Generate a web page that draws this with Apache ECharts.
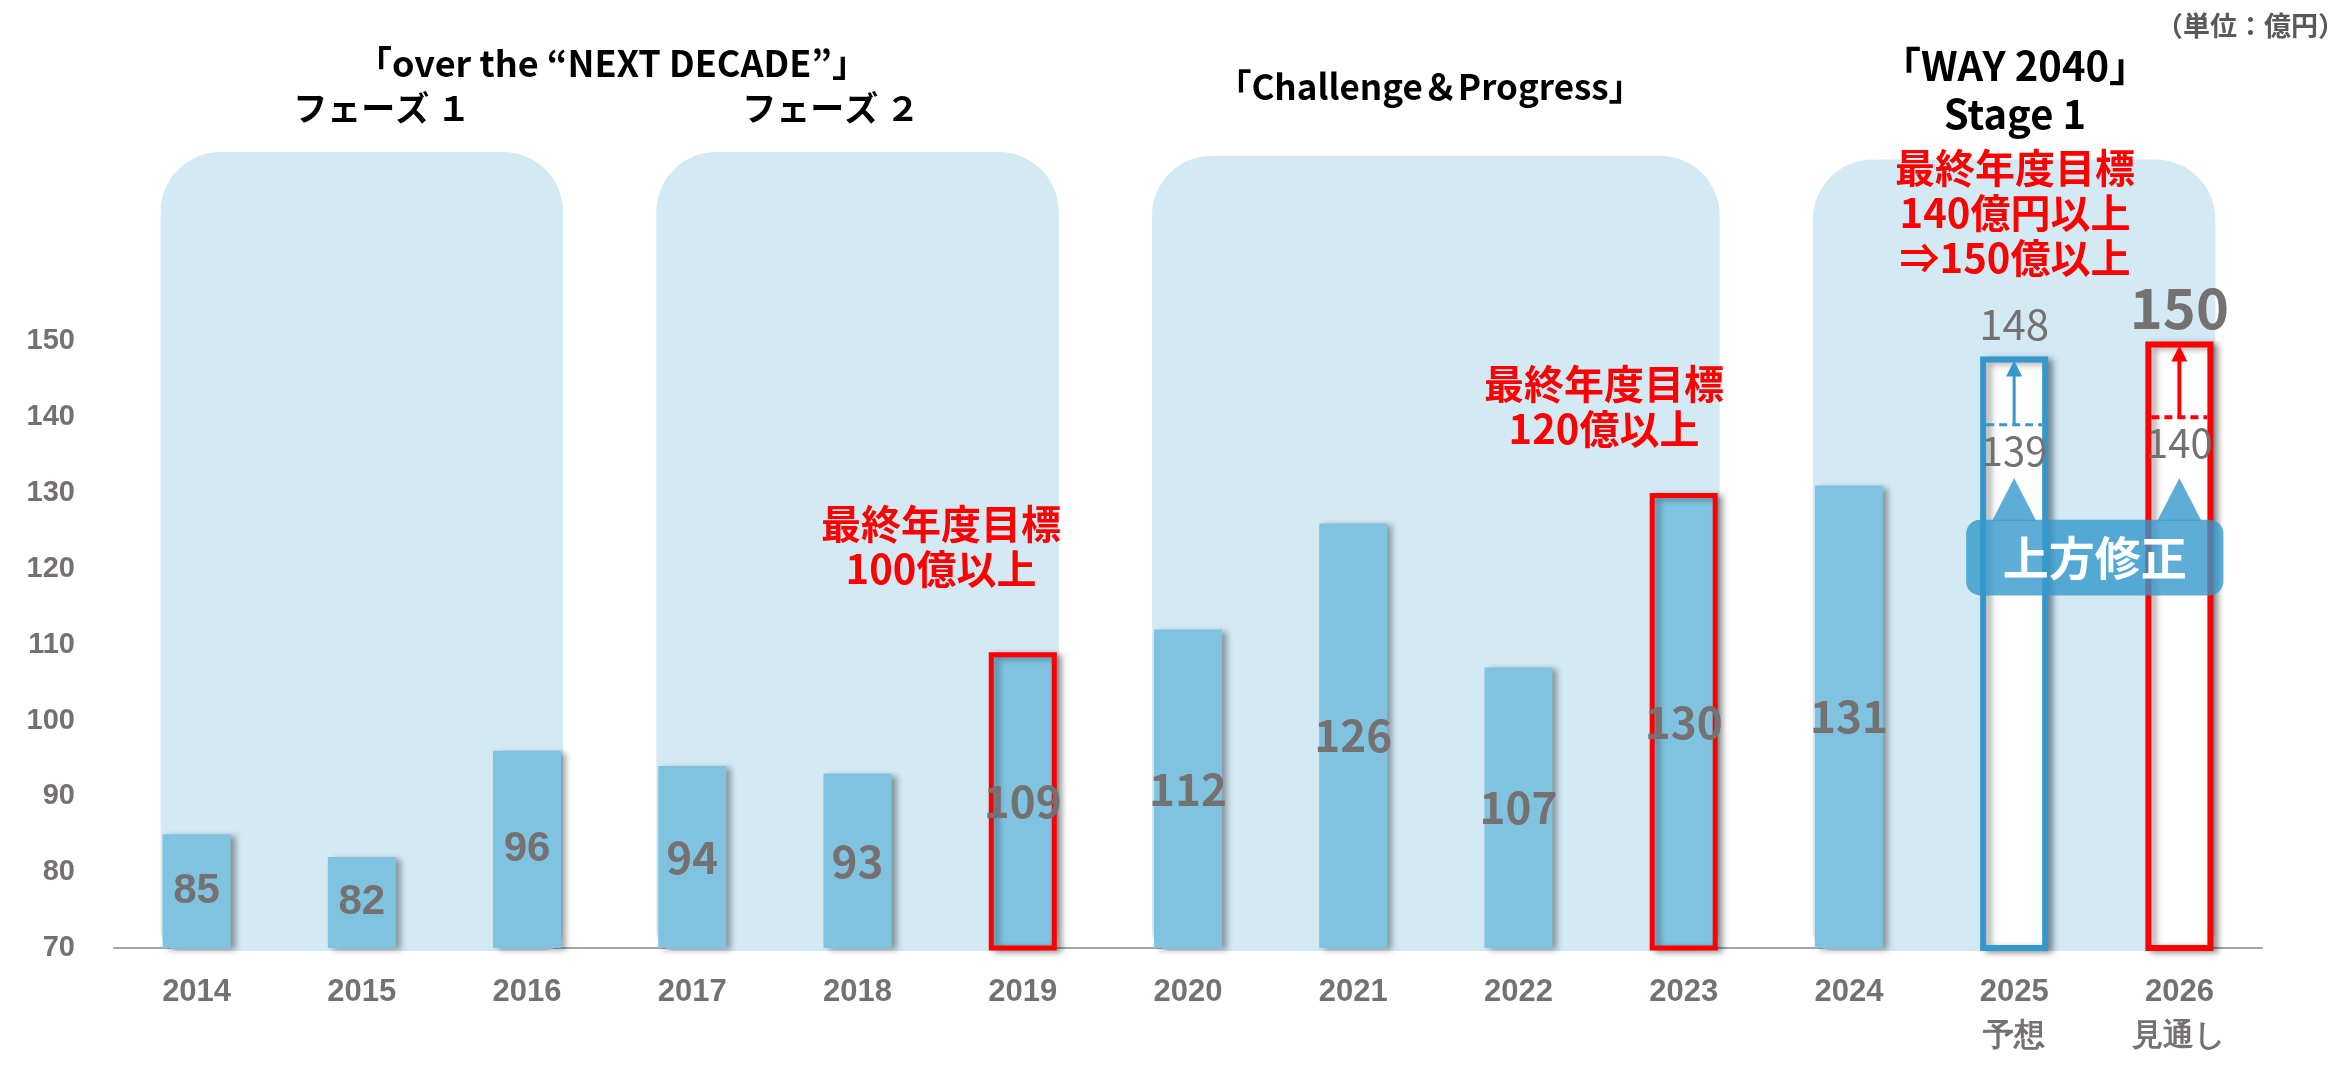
<!DOCTYPE html>
<html>
<head>
<meta charset="utf-8">
<script src="https://cdn.jsdelivr.net/npm/echarts@6/dist/echarts.min.js"></script>
<style>
html, body { margin: 0; padding: 0; background: #fff; }
#chart { width: 2349px; height: 1068px; }
</style>
</head>
<body>
<div id="chart"></div>
<script>
// data (unit: 億円)
const years = ['2014', '2015', '2016', '2017', '2018', '2019', '2020', '2021', '2022', '2023', '2024', '2025', '2026']
const yearNotes = ['', '', '', '', '', '', '', '', '', '', '', '予想', '見通し']
const results = [85, 82, 96, 94, 93, 109, 112, 126, 107, 130, 131, null, null]
const forecasts = [null, null, null, null, null, null, null, null, null, null, null, 148, 150]
const firstTargets = [null, null, null, null, null, null, null, null, null, null, null, 139, 140]
const targetYears = ['2019', '2023']
// plan periods (first year index, last year index, top of panel)
const panelFrom = [0, 3, 6, 10]
const panelTo = [2, 5, 9, 12]
const panelTop = [175, 175, 174.5, 174]

const GRAY = '#767171'
const BAR = '#7FC3E0'
const PANEL = '#D3E9F4'
const BLUE = '#3399CC'
const RED = '#FF0000'
const JP = '"Noto Sans CJK JP", "Noto Sans", sans-serif'
const NUM = '"Liberation Sans", Arial, sans-serif'

const shadow = {
    shadowColor: 'rgba(0,0,0,0.35)',
    shadowBlur: 6,
    shadowOffsetX: 5,
    shadowOffsetY: 2
}

const buildBars = () => {
    return years.map((y, i) => {
        if (results[i] !== null) {
            let item = {
                value: results[i],
                itemStyle: Object.assign({ color: BAR }, shadow),
                label: {
                    fontFamily: i < 3 ? NUM : JP,
                    fontWeight: 'bold',
                    fontSize: i < 3 ? 42 : 44
                }
            }
            if (targetYears.includes(y)) {
                item.itemStyle.borderColor = RED
                item.itemStyle.borderWidth = 5
            }
            return item
        }
        let isLast = i === years.length - 1
        return {
            value: forecasts[i],
            itemStyle: Object.assign({ color: '#fff', borderColor: isLast ? RED : BLUE, borderWidth: 6 }, shadow),
            label: {
                position: 'top',
                distance: isLast ? 6 : 12,
                fontFamily: JP,
                fontWeight: isLast ? 'bold' : 'normal',
                fontSize: isLast ? 56 : 42
            }
        }
    })
}

const panelData = panelFrom.map((f, i) => [f, panelTo[i], panelTop[i]])
const revisionData = []
forecasts.forEach((v, i) => {
    if (v !== null) revisionData.push([i, firstTargets[i], v])
})

const renderPanel = (params, api) => {
    const a = api.coord([api.value(0), api.value(2)])
    const b = api.coord([api.value(1), 70])
    const x = a[0] - 36
    return {
        type: 'rect',
        shape: { x: x, y: a[1], width: b[0] + 36 - x, height: b[1] + 3 - a[1], r: [60, 60, 20, 20] },
        style: { fill: PANEL }
    }
}

const renderRevision = (params, api) => {
    const idx = api.value(0)
    const p = api.coord([idx, api.value(1)])
    const q = api.coord([idx, api.value(2)])
    const color = idx === years.length - 1 ? RED : BLUE
    const lw = idx === years.length - 1 ? 4 : 3
    return {
        type: 'group',
        children: [
            { type: 'line', shape: { x1: p[0] - 28, y1: p[1], x2: p[0] + 28, y2: p[1] },
              style: { stroke: color, lineWidth: lw, lineDash: [8, 5] } },
            { type: 'line', shape: { x1: p[0], y1: p[1], x2: p[0], y2: q[1] + 18 },
              style: { stroke: color, lineWidth: lw } },
            { type: 'polygon', shape: { points: [[p[0], q[1] + 4], [p[0] - 8, q[1] + 20], [p[0] + 8, q[1] + 20]] },
              style: { fill: color } },
            { type: 'text', x: p[0], y: p[1] + 6,
              style: { text: String(api.value(1)), fill: GRAY, fontSize: 40, fontFamily: JP,
                       align: 'center', verticalAlign: 'top' } }
        ]
    }
}

// 「上方修正」 callout spanning the two forecast bars
const renderCallout = (params, api) => {
    const a = api.coord([api.value(0), 126.5])
    const b = api.coord([api.value(1), 116.5])
    const tipA = api.coord([api.value(0), 132])
    const tipB = api.coord([api.value(1), 132])
    const fill = 'rgba(52,152,204,0.8)'
    const tri = (t) => ({ type: 'polygon',
        shape: { points: [[t[0], t[1]], [t[0] - 22, a[1] + 1], [t[0] + 22, a[1] + 1]] },
        style: { fill: fill } })
    return {
        type: 'group',
        children: [
            tri(tipA),
            tri(tipB),
            { type: 'rect', shape: { x: a[0] - 48, y: a[1], width: b[0] + 44 - (a[0] - 48), height: b[1] - a[1], r: 14 },
              style: { fill: fill } },
            { type: 'text', x: (a[0] - 48 + b[0] + 44) / 2, y: (a[1] + b[1]) / 2,
              style: { text: '上方修正', fill: '#fff', fontSize: 46, fontWeight: 'bold', fontFamily: JP,
                       align: 'center', verticalAlign: 'middle' } }
        ]
    }
}

const headerText = (x, y, text, size, color) => ({
    type: 'text', x: x, y: y, z: 100,
    style: { text: text, fill: color || '#000', fontSize: size, fontWeight: 'bold', fontFamily: JP,
             align: 'center', verticalAlign: 'middle', lineHeight: 45 }
})

const option = {
    backgroundColor: '#fff',
    animation: false,
    grid: { left: 114, right: 87, top: 114, bottom: 120, containLabel: false, outerBoundsMode: 'none' },
    xAxis: {
        type: 'category',
        data: years,
        axisTick: { show: false },
        axisLine: { lineStyle: { color: '#A6A6A6', width: 2 } },
        axisLabel: {
            color: GRAY, fontSize: 31, fontWeight: 'bold', fontFamily: NUM,
            margin: 22, lineHeight: 44,
            formatter: (v, i) => yearNotes[i] ? v + '\n' + yearNotes[i] : v
        }
    },
    yAxis: {
        type: 'value',
        min: 70, max: 180, interval: 10,
        axisLine: { show: false },
        axisTick: { show: false },
        splitLine: { show: false },
        axisLabel: {
            color: GRAY, fontSize: 29, fontWeight: 'bold', fontFamily: NUM, margin: 39,
            formatter: v => v <= 150 ? String(v) : ''
        }
    },
    graphic: [
        { type: 'text', right: 4, top: 12, z: 100,
          style: { text: '（単位：億円）', fill: '#595959', fontSize: 27, fontWeight: 'bold', fontFamily: JP } },
        headerText(612, 63, '「over the “NEXT DECADE”」', 36),
        headerText(382, 108, 'フェーズ １', 34),
        headerText(831, 108, 'フェーズ ２', 34),
        headerText(1430, 87, '「Challenge＆Progress」', 35),
        headerText(2015, 66, '「WAY 2040」', 40),
        headerText(2015, 114, 'Stage 1', 40),
        headerText(2015, 213, '最終年度目標\n140億円以上\n⇒150億以上', 40, RED),
        headerText(1604, 406, '最終年度目標\n120億以上', 40, RED),
        headerText(941, 546, '最終年度目標\n100億以上', 40, RED)
    ],
    series: [
        {
            name: 'panels',
            type: 'custom',
            z: 1,
            silent: true,
            renderItem: renderPanel,
            encode: { x: [0, 1], y: 2 },
            data: panelData
        },
        {
            name: '売上高',
            type: 'bar',
            z: 2,
            barWidth: 68,
            label: { show: true, position: 'inside', color: GRAY },
            data: buildBars()
        },
        {
            name: 'revision',
            type: 'custom',
            z: 3,
            renderItem: renderRevision,
            encode: { x: 0, y: [1, 2] },
            data: revisionData
        },
        {
            name: 'callout',
            type: 'custom',
            z: 4,
            renderItem: renderCallout,
            encode: { x: [0, 1] },
            data: [[revisionData[0][0], revisionData[1][0]]]
        }
    ]
}

const chart = echarts.init(document.getElementById('chart'))
chart.setOption(option)
</script>
</body>
</html>
